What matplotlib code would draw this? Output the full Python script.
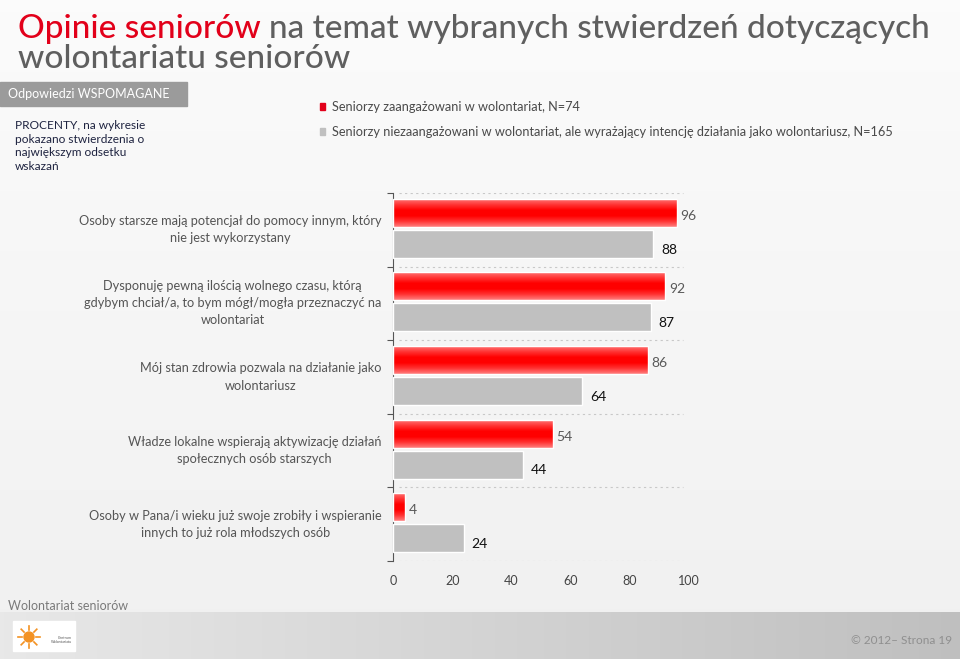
import matplotlib
matplotlib.use("Agg")
import matplotlib.pyplot as plt
import numpy as np
from matplotlib.patches import Rectangle, Circle

plt.rcParams["font.family"] = ["Lato", "DejaVu Sans"]

# data
categories = [
    "Osoby starsze mają potencjał do pomocy innym, który\nnie jest wykorzystany",
    "Dysponuję pewną ilością wolnego czasu, którą\ngdybym chciał/a, to bym mógł/mogła przeznaczyć na\nwolontariat",
    "Mój stan zdrowia pozwala na działanie jako\nwolontariusz",
    "Władze lokalne wspierają aktywizację działań\nspołecznych osób starszych",
    "Osoby w Pana/i wieku już swoje zrobiły i wspieranie\ninnych to już rola młodszych osób",
]
engaged = [96, 92, 86, 54, 4]
intending = [88, 87, 64, 44, 24]
series_names = [
    "Seniorzy zaangażowani w wolontariat, N=74",
    "Seniorzy niezaangażowani w wolontariat, ale wyrażający intencję działania jako wolontariusz, N=165",
]
xticks = [0, 20, 40, 60, 80, 100]

W, H = 960, 659
fig = plt.figure(figsize=(9.6, 6.59), dpi=100)

# background
bg = fig.add_axes([0, 0, 1, 1])
bg.axis("off")
grad = np.linspace(0.985, 0.945, 256).reshape(-1, 1)
bg.imshow(np.dstack([grad] * 3), extent=[0, W, 612, 0], aspect="auto")
foot = np.linspace(0.91, 0.75, 256).reshape(1, -1)
bg.imshow(np.dstack([foot] * 3), extent=[0, W, H, 612], aspect="auto")
bg.set_xlim(0, W)
bg.set_ylim(H, 0)

# title
t1 = bg.text(18, 29, "Opinie seniorów", color="#e2001a", fontsize=24,
             va="center", ha="left", fontweight="medium")
fig.canvas.draw()
bb = t1.get_window_extent()
bg.text(18 + bb.width + 8, 29, "na temat wybranych stwierdzeń dotyczących",
        color="#5f5f5f", fontsize=24, va="center", ha="left", fontweight="medium")
bg.text(18, 59, "wolontariatu seniorów", color="#5f5f5f", fontsize=24,
        va="center", ha="left", fontweight="medium")

# header box
bg.add_patch(Rectangle((0, 82), 187, 24, color="#9b9b9b"))
bg.text(8, 94, "Odpowiedzi WSPOMAGANE", color="white", fontsize=9,
        va="center", ha="left")
bg.text(15, 146, "PROCENTY, na wykresie\npokazano stwierdzenia o\nnajwiększym odsetku\nwskazań",
        color="#1e2340", fontsize=8.6, va="center", ha="left", linespacing=1.3)

# legend
bg.add_patch(Rectangle((320, 103), 5, 7, color="#e2001a"))
bg.add_patch(Rectangle((320, 128), 5, 7, color="#c0c0c0"))
bg.text(332, 107, series_names[0], color="#4a4a4a", fontsize=9.2, va="center")
bg.text(332, 132, series_names[1], color="#4a4a4a", fontsize=9.2, va="center")

# footer
bg.text(8, 606, "Wolontariat seniorów", color="#7a7a7a", fontsize=9, va="center")
bg.add_patch(Rectangle((13, 621), 62, 30, color="white"))
bg.add_patch(Circle((29, 637), 5, color="#f39223"))
for a in np.linspace(0, 2 * np.pi, 9)[:-1]:
    bg.plot([29 + 7 * np.cos(a), 29 + 11 * np.cos(a)],
            [637 + 7 * np.sin(a), 637 + 11 * np.sin(a)], color="#f39223", lw=1.2)
bg.text(72, 640, "Centrum\nWolontariatu", color="#555555", fontsize=2.6,
        ha="right", va="center")
bg.text(952, 641, "© 2012– Strona 19", color="#8f8f8f", fontsize=8.5,
        ha="right", va="center")

# chart
ax = fig.add_axes([393 / W, 1 - 561 / H, 296 / W, 368 / H])
ax.set_facecolor("none")
n = len(categories)
ax.set_xlim(0, 100)
ax.set_ylim(n, 0)
bar_h = 0.38

red_grad = np.array([[1.0, 0.45, 0.45], [1.0, 0.2, 0.2], [1.0, 0.0, 0.0],
                     [1.0, 0.0, 0.0], [1.0, 0.2, 0.2], [1.0, 0.5, 0.5]])
red_img = np.interp(np.linspace(0, 5, 64), np.arange(6), red_grad[:, 1])
red_img = np.dstack([np.ones(64), red_img, red_img]).reshape(64, 1, 3)

for i in range(n):
    y_red = i + 0.08
    y_gray = i + 0.08 + bar_h + 0.04
    v1, v2 = engaged[i], intending[i]
    ax.imshow(red_img, extent=[0, v1, y_red + bar_h, y_red], aspect="auto",
              interpolation="bilinear", zorder=2)
    ax.add_patch(Rectangle((0, y_red), v1, bar_h, fill=False, ec="white",
                           lw=1.0, zorder=3))
    ax.add_patch(Rectangle((0, y_gray), v2, bar_h, fc="#c0c0c0", ec="white",
                           lw=1.0, zorder=3))
    ax.text(v1 + 1.2, y_red + bar_h / 2 + 0.04, str(v1), color="#595959",
            fontsize=10, va="center", ha="left")
    ax.text(v2 + 2.5, y_gray + bar_h / 2 + 0.08, str(v2), color="#111111",
            fontsize=10, va="center", ha="left")
    ax.text(-3.9, i + 0.5, categories[i], ha="right", va="center",
            multialignment="center", color="#555555", fontsize=9.2,
            linespacing=1.5)

for b in range(n + 1):
    ax.axhline(b, xmin=0.02, xmax=0.98, color="#c8c8c8", lw=0.8,
               ls=(0, (2, 3)), zorder=1)

ax.set_yticks(range(n + 1))
ax.set_yticklabels([])
ax.tick_params(axis="y", length=4, color="#555555", direction="out")
ax.set_xticks(xticks)
ax.set_xticklabels([str(x) for x in xticks], color="#444444", fontsize=9)
ax.tick_params(axis="x", length=0, pad=10)
for s in ["top", "right", "bottom"]:
    ax.spines[s].set_visible(False)
ax.spines["left"].set_color("#555555")

fig.savefig("out.png", dpi=100)
